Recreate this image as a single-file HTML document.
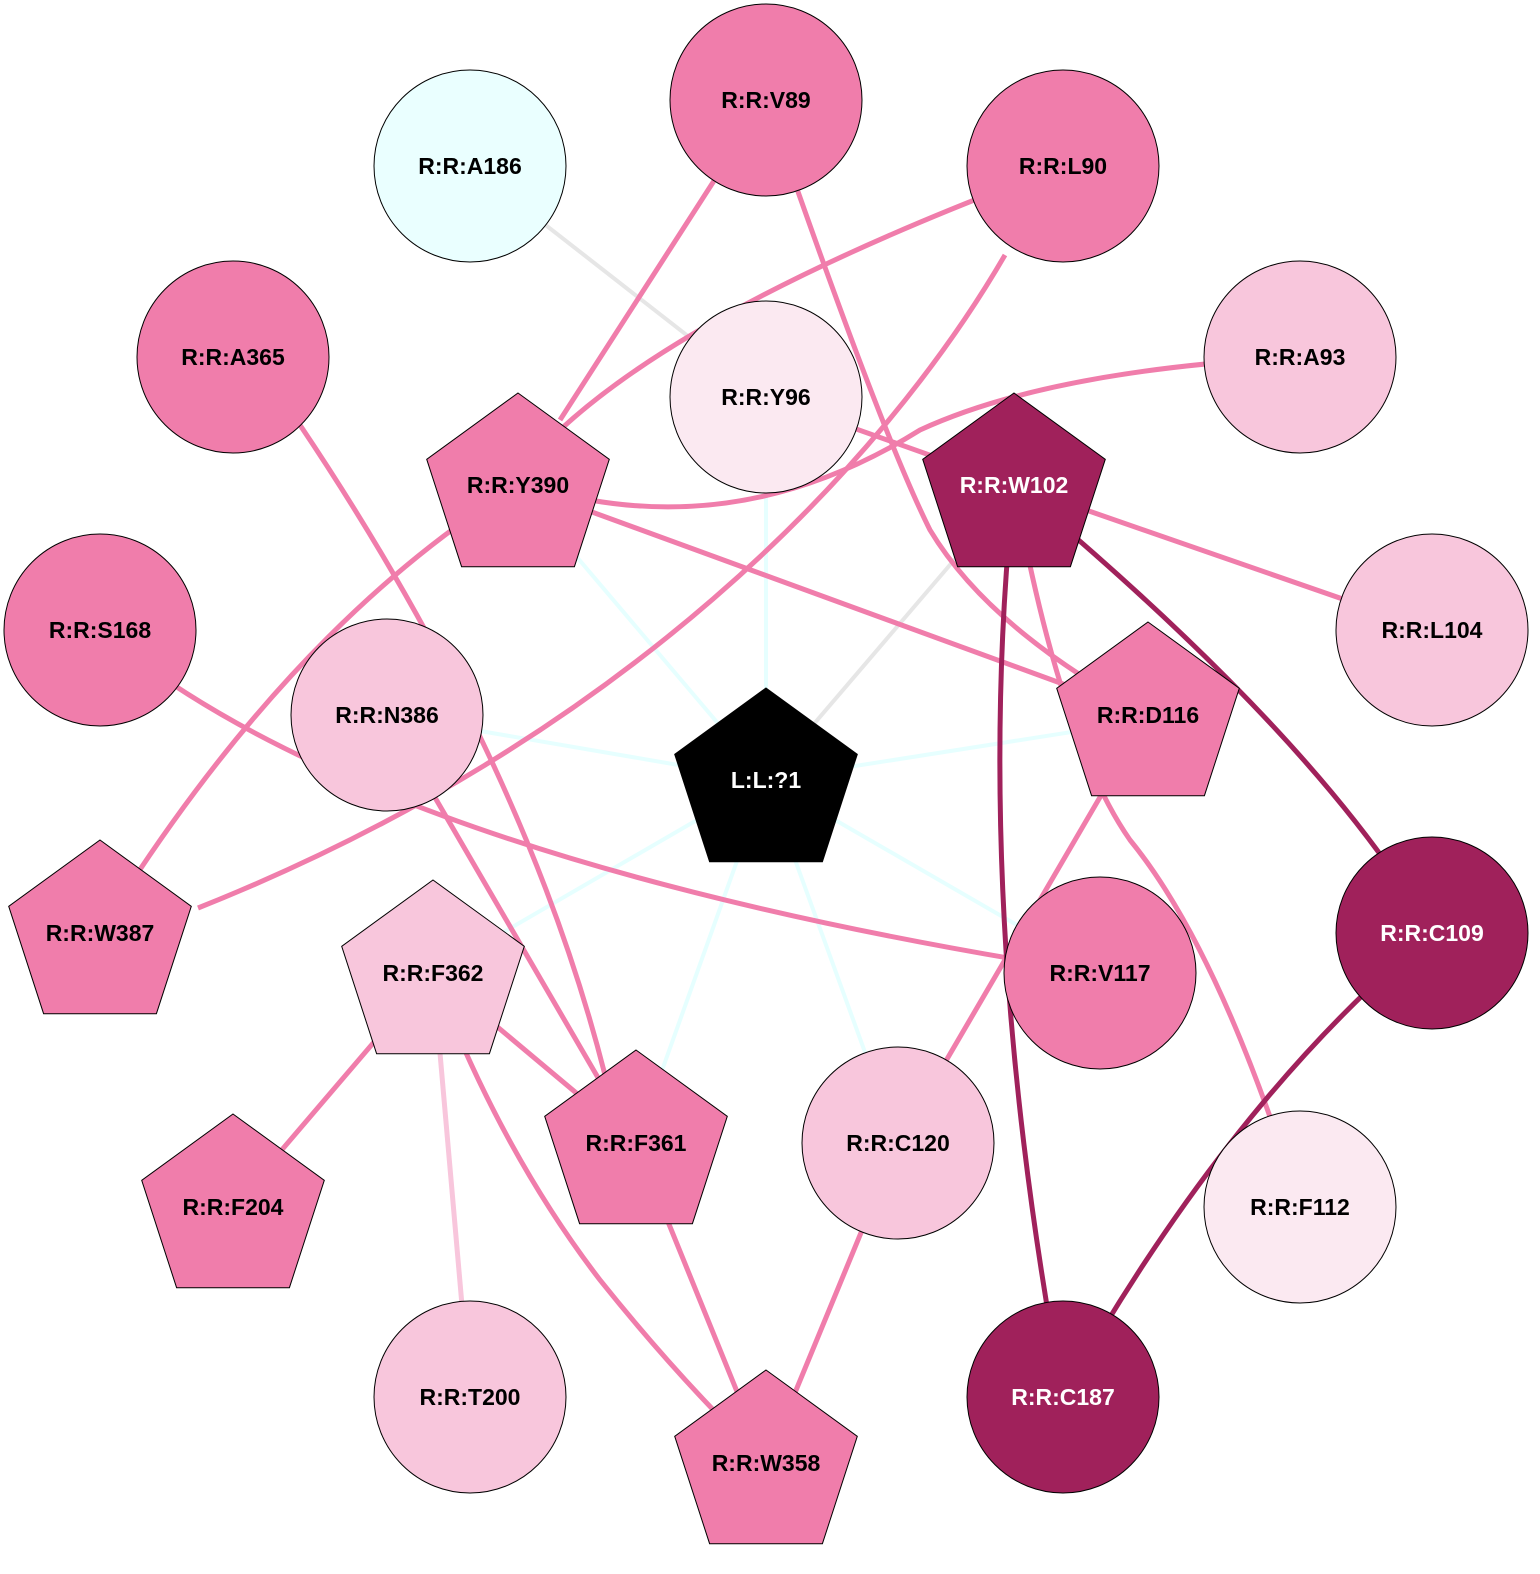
<!DOCTYPE html>
<html><head><meta charset="utf-8"><style>body{margin:0;background:#fff}svg{display:block}text{font-family:"Liberation Sans",Arial,sans-serif;font-weight:bold;font-size:23px;text-anchor:middle;dominant-baseline:central}</style></head>
<body>
<svg width="1540" height="1574" viewBox="0 0 1540 1574" xmlns="http://www.w3.org/2000/svg">
<defs>
<polygon id="pent" points="0,-96 91.3,-29.7 56.4,77.7 -56.4,77.7 -91.3,-29.7" stroke="#000" stroke-width="1"/>
</defs>
<g fill="none" stroke-width="5">
<g stroke="#e6ffff" stroke-width="4">
<line x1="766" y1="780" x2="766" y2="490"/>
<line x1="766" y1="780" x2="520" y2="490"/>
<line x1="766" y1="780" x2="387" y2="715"/>
<line x1="766" y1="780" x2="1148" y2="720"/>
<line x1="766" y1="780" x2="1100" y2="973"/>
<line x1="766" y1="780" x2="898" y2="1143"/>
<line x1="766" y1="780" x2="636" y2="1143"/>
<line x1="766" y1="780" x2="433" y2="973"/>
</g>
<line x1="766" y1="780" x2="1014" y2="490" stroke="#e6e6e6" stroke-width="4"/>
<line x1="470" y1="166" x2="766" y2="397" stroke="#e6e6e6" stroke-width="4"/>
<g stroke="#f07dab">
<line x1="766" y1="100" x2="560" y2="420"/>
<path d="M1063,166 Q700,300 560,430"/>
<path d="M1005,255 C880,470 620,740 198,908"/>
<path d="M1300,357 Q1050,370 920,430 Q760,530 590,500"/>
<line x1="766" y1="397" x2="1014" y2="485"/>
<path d="M766,100 Q880,430 930,530 Q990,630 1148,715"/>
<line x1="518" y1="485" x2="1148" y2="715"/>
<line x1="1014" y1="485" x2="1432" y2="630"/>
<path d="M1014,485 Q1060,740 1130,840 Q1220,950 1300,1207"/>
<path d="M300,425 Q525,760 605,1075"/>
<path d="M100,630 Q370,860 1100,973"/>
<path d="M518,485 Q300,620 120,900"/>
<line x1="387" y1="715" x2="636" y2="1143"/>
<line x1="1148" y1="715" x2="898" y2="1143"/>
<line x1="433" y1="973" x2="636" y2="1143"/>
<line x1="433" y1="973" x2="233" y2="1207"/>
<path d="M433,973 Q500,1150 600,1280 Q680,1380 766,1463"/>
<line x1="636" y1="1143" x2="766" y2="1463"/>
<line x1="898" y1="1143" x2="766" y2="1463"/>
</g>
<line x1="433" y1="973" x2="470" y2="1397" stroke="#f8c6dc"/>
<g stroke="#a0215b">
<path d="M1014,485 Q1320,740 1432,933"/>
<path d="M1014,485 Q970,900 1063,1397"/>
<path d="M1432,933 Q1230,1100 1063,1397"/>
</g>
</g>
<g stroke="#000" stroke-width="1">
<circle cx="470" cy="166" r="96" fill="#eaffff"/>
<circle cx="766" cy="100" r="96" fill="#f07dab"/>
<circle cx="1063" cy="166" r="96" fill="#f07dab"/>
<circle cx="233" cy="357" r="96" fill="#f07dab"/>
<circle cx="766" cy="397" r="96" fill="#fbe9f1"/>
<circle cx="1300" cy="357" r="96" fill="#f8c6dc"/>
<circle cx="100" cy="630" r="96" fill="#f07dab"/>
<circle cx="1432" cy="630" r="96" fill="#f8c6dc"/>
<circle cx="387" cy="715" r="96" fill="#f8c6dc"/>
<circle cx="1432" cy="933" r="96" fill="#a0215b"/>
<circle cx="1100" cy="973" r="96" fill="#f07dab"/>
<circle cx="898" cy="1143" r="96" fill="#f8c6dc"/>
<circle cx="1300" cy="1207" r="96" fill="#fbe9f1"/>
<circle cx="470" cy="1397" r="96" fill="#f8c6dc"/>
<circle cx="1063" cy="1397" r="96" fill="#a0215b"/>
</g>
<use href="#pent" x="518" y="489" fill="#f07dab"/>
<use href="#pent" x="1014" y="489" fill="#a0215b"/>
<use href="#pent" x="1148" y="718" fill="#f07dab"/>
<use href="#pent" x="766" y="784" fill="#000"/>
<use href="#pent" x="100" y="936" fill="#f07dab"/>
<use href="#pent" x="433" y="976" fill="#f8c6dc"/>
<use href="#pent" x="636" y="1146" fill="#f07dab"/>
<use href="#pent" x="233" y="1210" fill="#f07dab"/>
<use href="#pent" x="766" y="1466" fill="#f07dab"/>
<g fill="#000">
<text x="470" y="166">R:R:A186</text>
<text x="766" y="100">R:R:V89</text>
<text x="1063" y="166">R:R:L90</text>
<text x="233" y="357">R:R:A365</text>
<text x="766" y="397">R:R:Y96</text>
<text x="1300" y="357">R:R:A93</text>
<text x="518" y="485">R:R:Y390</text>
<text x="100" y="630">R:R:S168</text>
<text x="1432" y="630">R:R:L104</text>
<text x="387" y="715">R:R:N386</text>
<text x="1148" y="715">R:R:D116</text>
<text x="100" y="933">R:R:W387</text>
<text x="433" y="973">R:R:F362</text>
<text x="1100" y="973">R:R:V117</text>
<text x="636" y="1143">R:R:F361</text>
<text x="898" y="1143">R:R:C120</text>
<text x="233" y="1207">R:R:F204</text>
<text x="1300" y="1207">R:R:F112</text>
<text x="470" y="1397">R:R:T200</text>
<text x="766" y="1463">R:R:W358</text>
</g>
<g fill="#fff">
<text x="1014" y="485">R:R:W102</text>
<text x="766" y="780">L:L:?1</text>
<text x="1432" y="933">R:R:C109</text>
<text x="1063" y="1397">R:R:C187</text>
</g>
</svg>
</body></html>
